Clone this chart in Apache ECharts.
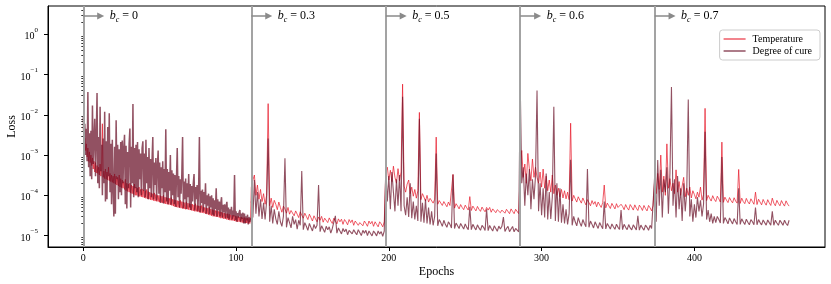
<!DOCTYPE html>
<html><head><meta charset="utf-8">
<script src="https://cdn.jsdelivr.net/npm/echarts@6/dist/echarts.min.js"></script>
<style>html,body{margin:0;padding:0;background:#fff}#chart{width:831px;height:284px}</style>
</head><body><div id="chart"></div>
<script>
// ---- data ----
const phaseStarts = [0, 110, 198, 286, 374];
const pointsPerEpoch = [2, 1, 1, 1, 1];
const phaseLabels = ['0', '0.3', '0.5', '0.6', '0.7'];
const xTickValues = [0, 100, 200, 300, 400];
const yTickValues = [1e-5, 1e-4, 1e-3, 1e-2, 1e-1, 1];
const yMinorTickValues = [6e-6,7e-6,8e-6,9e-6,
  2e-5,3e-5,4e-5,5e-5,6e-5,7e-5,8e-5,9e-5,
  2e-4,3e-4,4e-4,5e-4,6e-4,7e-4,8e-4,9e-4,
  2e-3,3e-3,4e-3,5e-3,6e-3,7e-3,8e-3,9e-3,
  2e-2,3e-2,4e-2,5e-2,6e-2,7e-2,8e-2,9e-2,
  0.2,0.3,0.4,0.5,0.6,0.7,0.8,0.9,2,3,4];

// b_c = 0 phase, two readings per epoch
const temperatureBc0 = [
5.0e-3,2.0e-3,2.6e-3,1.3e-3,1.9e-3,9.0e-4,1.5e-3,7.0e-4,1.2e-3,6.5e-4,
1.0e-3,5.5e-4,8.5e-4,4.5e-4,7.0e-4,3.8e-4,6.5e-4,3.6e-4,5.5e-4,3.5e-4,
5.0e-4,3.2e-4,6.0e-4,3.0e-4,4.5e-4,6.0e-3,2.8e-4,4.0e-4,2.6e-4,4.5e-4,
2.5e-4,3.8e-4,2.4e-4,5.0e-4,2.3e-4,3.5e-4,2.2e-4,3.2e-4,2.1e-4,3.0e-4,
2.0e-4,3.4e-4,1.9e-4,3.0e-4,1.8e-4,2.8e-4,1.7e-4,3.2e-4,1.6e-4,2.6e-4,
1.55e-4,2.4e-4,1.5e-4,2.2e-4,1.4e-4,2.5e-4,1.3e-4,2.0e-4,1.25e-4,1.9e-4,
1.2e-4,2.0e-4,1.15e-4,1.8e-4,1.1e-4,1.7e-4,1.05e-4,1.9e-4,1.0e-4,1.6e-4,
1.0e-4,1.5e-4,9.6e-5,1.6e-4,9.4e-5,1.4e-4,9.2e-5,1.45e-4,9.0e-5,1.35e-4,
8.6e-5,1.3e-4,8.4e-5,1.4e-4,8.2e-5,1.25e-4,8.0e-5,1.2e-4,7.8e-5,1.15e-4,
7.6e-5,1.1e-4,7.4e-5,1.15e-4,7.2e-5,1.05e-4,7.1e-5,1.0e-4,7.0e-5,1.0e-4,
6.8e-5,9.8e-5,6.6e-5,9.5e-5,6.5e-5,1.0e-4,6.3e-5,9.0e-5,6.1e-5,8.8e-5,
6.0e-5,8.6e-5,5.9e-5,8.4e-5,5.8e-5,8.8e-5,5.6e-5,8.0e-5,5.4e-5,7.8e-5,
5.2e-5,7.6e-5,5.1e-5,7.4e-5,5.0e-5,7.2e-5,4.9e-5,7.5e-5,4.8e-5,7.0e-5,
4.7e-5,6.8e-5,4.6e-5,6.6e-5,4.5e-5,6.9e-5,4.5e-5,6.4e-5,4.4e-5,6.2e-5,
4.3e-5,6.1e-5,4.2e-5,6.0e-5,4.1e-5,5.8e-5,4.0e-5,6.2e-5,4.0e-5,5.6e-5,
3.9e-5,5.5e-5,3.8e-5,5.4e-5,3.7e-5,5.6e-5,3.7e-5,5.2e-5,3.6e-5,5.0e-5,
3.5e-5,4.9e-5,3.4e-5,4.8e-5,3.3e-5,5.0e-5,3.2e-5,4.6e-5,3.1e-5,4.4e-5,
3.0e-5,4.3e-5,3.0e-5,4.2e-5,2.9e-5,4.1e-5,2.9e-5,4.0e-5,2.8e-5,3.9e-5,
2.7e-5,3.8e-5,2.7e-5,3.7e-5,2.6e-5,3.6e-5,2.6e-5,3.5e-5,2.5e-5,3.5e-5,
2.45e-5,3.4e-5,2.4e-5,3.3e-5,2.4e-5,3.2e-5,2.35e-5,3.2e-5,2.3e-5,3.1e-5,
2.25e-5,3.0e-5,2.2e-5,3.0e-5,2.2e-5,2.9e-5,2.15e-5,2.9e-5,2.1e-5,2.8e-5,
2.1e-5,2.8e-5,2.05e-5,2.75e-5,2.05e-5,2.7e-5,2.0e-5,2.7e-5,2.0e-5,2.65e-5];
const cureBc0 = [
8.9e-3,2.0e-3,6.0e-3,1.0e-3,4.5e-3,7.0e-4,3.7e-2,5.0e-4,3.5e-3,3.0e-4,
4.0e-3,2.5e-4,1.7e-2,6.0e-4,2.5e-3,8.0e-3,3.0e-4,3.0e-3,3.5e-2,2.0e-4,
2.8e-3,1.5e-4,1.6e-2,4.0e-4,1.8e-3,1.0e-4,2.6e-3,2.0e-4,1.2e-2,7.0e-5,
2.2e-3,8.0e-5,5.0e-3,3.0e-4,1.1e-2,1.2e-4,1.9e-3,6.0e-5,2.4e-3,1.5e-4,
3.0e-5,1.6e-3,3.5e-5,7.3e-3,2.5e-4,1.8e-3,8.0e-5,1.4e-3,1.2e-4,2.1e-3,
1.0e-4,2.3e-3,2.0e-4,1.5e-3,3.2e-3,6.0e-5,1.7e-3,4.7e-5,1.2e-3,1.5e-4,
1.9e-3,4.6e-3,5.0e-5,1.6e-3,2.0e-4,1.85e-2,9.0e-5,1.5e-3,1.5e-4,1.8e-3,
1.2e-4,2.1e-3,9.0e-5,1.4e-3,2.5e-4,1.1e-3,1.0e-4,1.5e-3,2.2e-3,1.3e-4,
1.1e-3,9.0e-5,2.4e-3,2.0e-4,9.0e-4,8.0e-5,1.5e-3,1.5e-4,8.0e-4,9.0e-5,
7.5e-4,2.8e-3,8.0e-5,6.5e-4,1.8e-4,8.5e-4,7.5e-5,5.5e-4,1.3e-3,1.1e-4,
6.5e-4,6.5e-5,5.0e-4,1.5e-4,7.0e-4,6.3e-5,4.5e-4,1.2e-4,4.4e-3,7.0e-5,
4.5e-4,6.0e-5,3.8e-4,1.3e-4,1.0e-3,5.8e-5,4.2e-4,1.0e-4,3.5e-4,6.0e-5,
3.2e-4,5.2e-5,2.8e-4,1.5e-3,9.0e-5,3.0e-4,5.0e-5,2.5e-4,1.1e-4,3.4e-4,
2.8e-3,4.8e-5,2.2e-4,8.0e-5,2.6e-4,4.6e-5,2.0e-4,9.0e-5,3.4e-4,5.0e-5,
1.9e-4,4.3e-5,1.7e-4,7.0e-5,2.0e-4,3.4e-4,4.2e-5,1.6e-4,8.0e-5,1.8e-4,
4.0e-5,1.5e-4,2.8e-3,3.8e-5,1.3e-4,6.5e-5,1.4e-4,3.9e-5,1.2e-4,6.0e-5,
2.0e-4,3.5e-5,1.0e-4,5.5e-5,1.1e-4,3.4e-5,9.5e-5,5.0e-5,1.0e-4,3.3e-5,
8.5e-5,3.1e-5,7.5e-5,4.5e-5,1.5e-4,3.0e-5,8.0e-5,4.2e-5,7.0e-5,3.0e-5,
6.5e-5,9.0e-5,2.8e-5,5.8e-5,3.8e-5,6.0e-5,2.7e-5,5.5e-5,6.9e-5,2.7e-5,
5.0e-5,2.5e-5,4.5e-5,3.3e-5,5.2e-5,2.5e-5,4.2e-5,3.0e-5,3.2e-4,2.4e-5,
4.0e-5,2.2e-5,3.6e-5,2.8e-5,3.8e-5,4.3e-5,2.2e-5,3.5e-5,2.6e-5,3.7e-5,
2.0e-5,3.5e-5,2.0e-5,3.0e-5,2.4e-5,3.3e-5,1.9e-5,2.9e-5,2.2e-5,2.8e-5];

const temperatureBc03 = [
1.6e-4,2.4e-4,3.2e-4,1.0e-4,1.8e-4,8.0e-5,1.4e-4,7.0e-5,1.1e-4,6.0e-5,
1.0e-4,1.9e-2,5.5e-5,8.5e-5,5.0e-5,7.5e-5,6.0e-5,4.4e-5,6.8e-5,5.0e-5,
3.8e-5,5.4e-5,4.6e-5,3.6e-5,5.0e-5,3.4e-5,4.2e-5,4.6e-5,3.1e-5,4.1e-5,
3.4e-5,2.8e-5,3.9e-5,3.2e-5,2.7e-5,3.6e-5,3.0e-5,2.5e-5,3.4e-5,2.8e-5,
2.3e-5,3.1e-5,2.6e-5,2.2e-5,2.9e-5,2.4e-5,3.0e-5,2.15e-5,2.7e-5,2.5e-5,
2.1e-5,2.75e-5,2.3e-5,2.0e-5,2.7e-5,2.45e-5,1.95e-5,2.6e-5,2.2e-5,2.55e-5,
1.9e-5,2.5e-5,2.2e-5,1.85e-5,2.5e-5,2.1e-5,2.45e-5,1.8e-5,2.3e-5,2.4e-5,
1.8e-5,2.1e-5,2.35e-5,1.75e-5,2.3e-5,2.0e-5,1.7e-5,2.3e-5,1.95e-5,2.25e-5,
1.7e-5,2.2e-5,1.9e-5,1.65e-5,2.2e-5,1.95e-5,1.65e-5,2.2e-5];
const cureBc03 = [
7.0e-5,2.8e-5,2.4e-4,3.5e-5,1.2e-4,3.0e-5,8.0e-5,2.6e-5,6.5e-5,2.5e-5,
7.0e-5,2.6e-3,2.2e-5,5.5e-5,2.0e-5,4.5e-5,2.6e-5,1.9e-5,4.0e-5,2.2e-5,
1.7e-5,3.0e-5,8.3e-4,1.6e-5,2.8e-5,2.1e-5,1.55e-5,3.0e-5,1.9e-5,2.5e-5,
1.45e-5,2.4e-5,1.8e-5,4.0e-4,1.4e-5,2.1e-5,1.7e-5,1.35e-5,2.0e-5,1.6e-5,
1.3e-5,1.9e-5,1.5e-5,1.8e-5,1.8e-4,1.25e-5,1.75e-5,1.45e-5,1.2e-5,1.7e-5,
1.4e-5,1.65e-5,1.15e-5,1.5e-5,1.6e-5,3.1e-5,1.15e-5,1.55e-5,1.3e-5,1.1e-5,
1.5e-5,1.25e-5,1.45e-5,1.05e-5,1.35e-5,1.45e-5,1.1e-5,1.4e-5,1.2e-5,1.05e-5,
1.4e-5,1.25e-5,1.0e-5,1.35e-5,1.15e-5,1.35e-5,1.0e-5,1.3e-5,1.2e-5,9.8e-6,
1.3e-5,1.15e-5,9.8e-6,1.3e-5,1.1e-5,1.25e-5,9.6e-6,1.3e-5];

const temperatureBc05 = [
3.5e-4,5.0e-4,2.4e-4,4.2e-4,2.2e-4,5.3e-4,2.8e-4,2.0e-4,4.6e-4,2.3e-4,
3.8e-4,5.8e-2,1.7e-4,1.2e-4,1.9e-4,2.4e-4,1.1e-4,1.6e-4,9.5e-5,1.4e-4,
8.5e-5,1.3e-4,1.15e-2,7.8e-5,1.1e-4,9.0e-5,7.2e-5,1.0e-4,6.8e-5,8.4e-5,
9.2e-5,6.4e-5,8.0e-5,2.8e-3,6.0e-5,7.4e-5,6.6e-5,5.6e-5,7.0e-5,6.0e-5,
5.2e-5,6.8e-5,5.6e-5,5.0e-5,3.3e-4,4.8e-5,6.2e-5,5.4e-5,4.6e-5,5.9e-5,
5.0e-5,4.4e-5,5.7e-5,4.9e-5,4.3e-5,9.3e-5,4.2e-5,5.4e-5,4.7e-5,4.1e-5,
5.3e-5,4.5e-5,4.0e-5,5.1e-5,4.4e-5,3.9e-5,5.0e-5,4.3e-5,5.0e-5,3.8e-5,
4.6e-5,4.9e-5,3.7e-5,4.4e-5,4.8e-5,3.7e-5,4.3e-5,4.7e-5,3.6e-5,4.5e-5,
4.2e-5,3.5e-5,4.6e-5,4.0e-5,3.5e-5,4.5e-5,4.1e-5,3.5e-5];
const cureBc05 = [
4.3e-4,7.0e-5,3.0e-4,4.5e-5,3.8e-4,1.2e-4,4.0e-5,2.5e-4,5.5e-5,3.2e-4,
4.0e-5,2.8e-2,5.5e-5,3.2e-5,9.0e-5,2.9e-5,2.0e-4,2.7e-5,7.0e-5,2.5e-5,
5.5e-5,2.3e-5,8.0e-3,2.2e-5,6.5e-5,2.1e-5,8.0e-5,2.0e-5,5.0e-5,1.9e-5,
4.0e-5,1.8e-5,3.0e-5,1.1e-3,1.75e-5,2.5e-5,2.1e-5,1.7e-5,2.4e-5,1.9e-5,
1.6e-5,2.2e-5,1.9e-5,1.55e-5,3.3e-4,1.5e-5,2.05e-5,1.75e-5,1.5e-5,2.0e-5,
1.7e-5,1.45e-5,1.95e-5,1.6e-5,1.4e-5,5.2e-5,1.4e-5,1.9e-5,1.6e-5,1.38e-5,
1.85e-5,1.55e-5,1.35e-5,1.8e-5,1.6e-5,1.34e-5,4.5e-5,1.32e-5,1.78e-5,1.5e-5,
1.3e-5,1.75e-5,1.5e-5,1.28e-5,1.72e-5,1.45e-5,1.7e-5,2.9e-5,1.26e-5,1.5e-5,
1.7e-5,1.25e-5,1.45e-5,1.68e-5,1.24e-5,1.5e-5,1.66e-5,1.24e-5];

const temperatureBc06 = [
4.0e-4,1.3e-3,2.8e-4,6.0e-4,2.0e-4,1.1e-3,4.5e-4,2.3e-4,8.0e-4,2.8e-4,
5.0e-4,2.8e-4,2.0e-4,3.8e-4,1.6e-4,4.5e-4,1.5e-4,3.0e-4,1.3e-4,2.4e-4,
1.2e-4,3.2e-4,1.1e-4,1.8e-4,1.0e-4,1.5e-4,9.2e-5,1.4e-4,8.6e-5,1.3e-4,
8.2e-5,1.2e-4,7.8e-5,6.2e-3,7.2e-5,1.0e-4,8.2e-5,6.8e-5,9.2e-5,7.6e-5,
6.4e-5,8.6e-5,7.0e-5,5.8e-5,7.8e-5,6.6e-5,5.5e-5,7.4e-5,6.0e-5,7.0e-5,
5.2e-5,6.8e-5,5.8e-5,5.0e-5,6.6e-5,1.8e-4,4.9e-5,6.4e-5,5.5e-5,4.7e-5,
6.3e-5,5.4e-5,4.6e-5,6.2e-5,5.0e-5,4.5e-5,6.0e-5,5.3e-5,4.4e-5,5.9e-5,
4.9e-5,4.3e-5,5.9e-5,5.1e-5,4.3e-5,5.8e-5,4.8e-5,4.2e-5,5.7e-5,5.0e-5,
4.2e-5,5.6e-5,4.7e-5,4.1e-5,5.6e-5,4.9e-5,4.1e-5,5.5e-5];
const cureBc06 = [
6.0e-2,2.0e-4,5.0e-4,5.5e-5,3.5e-4,1.0e-4,4.5e-4,4.5e-5,2.5e-4,8.0e-5,
3.0e-4,4.0e-2,4.0e-5,2.0e-4,3.2e-5,1.5e-4,2.8e-5,3.5e-4,2.5e-5,1.2e-4,
2.6e-5,9.0e-5,1.6e-2,2.3e-5,2.0e-4,2.2e-5,1.5e-4,2.1e-5,6.0e-5,2.0e-5,
4.5e-5,1.9e-5,3.5e-5,7.6e-4,1.8e-5,3.0e-5,2.2e-5,1.75e-5,2.8e-5,2.1e-5,
1.7e-5,2.5e-5,2.0e-5,1.65e-5,4.5e-4,1.6e-5,2.3e-5,1.9e-5,1.55e-5,2.2e-5,
1.8e-5,1.5e-5,2.1e-5,1.75e-5,1.48e-5,7.0e-5,1.46e-5,2.0e-5,1.7e-5,1.45e-5,
1.95e-5,1.65e-5,1.43e-5,1.92e-5,1.6e-5,1.42e-5,4.3e-5,1.4e-5,1.9e-5,1.6e-5,
1.4e-5,1.88e-5,1.55e-5,1.38e-5,1.85e-5,1.6e-5,1.38e-5,3.1e-5,1.36e-5,1.82e-5,
1.55e-5,1.36e-5,1.82e-5,1.6e-5,1.35e-5,1.8e-5,1.5e-5,1.35e-5];

const temperatureBc07 = [
2.4e-4,1.1e-4,3.5e-4,1.4e-4,1.0e-3,1.2e-4,3.0e-4,1.0e-4,1.9e-3,1.5e-4,
2.6e-4,1.3e-4,2.0e-4,1.1e-4,4.3e-4,1.2e-4,2.2e-4,1.0e-4,1.7e-4,2.8e-4,
9.2e-5,1.5e-4,1.0e-4,1.6e-4,8.6e-5,1.3e-4,1.05e-4,8.2e-5,1.2e-4,9.0e-5,
1.6e-4,7.6e-5,1.05e-4,1.45e-2,7.4e-5,1.0e-4,8.4e-5,7.2e-5,9.8e-5,8.0e-5,
7.0e-5,9.5e-5,8.2e-5,6.8e-5,2.1e-3,6.7e-5,9.0e-5,7.6e-5,6.6e-5,8.8e-5,
7.4e-5,6.5e-5,8.7e-5,7.2e-5,6.4e-5,4.4e-4,6.3e-5,8.5e-5,7.0e-5,6.2e-5,
8.4e-5,6.9e-5,6.1e-5,8.2e-5,7.0e-5,6.0e-5,1.2e-4,5.9e-5,8.0e-5,6.8e-5,
5.8e-5,7.9e-5,6.6e-5,5.7e-5,7.8e-5,6.5e-5,5.6e-5,8.5e-5,6.4e-5,5.5e-5,
7.5e-5,6.3e-5,5.5e-5,7.4e-5,6.2e-5,5.4e-5,7.3e-5,6.1e-5,5.4e-5];
const cureBc07 = [
3.0e-4,2.2e-5,7.5e-4,5.5e-5,4.3e-4,2.8e-5,2.5e-4,1.2e-4,5.0e-4,3.5e-5,
3.5e-4,4.9e-2,5.5e-5,2.5e-4,2.8e-5,3.0e-4,4.5e-5,1.5e-4,2.3e-5,2.0e-4,
4.0e-5,1.2e-4,2.4e-2,3.0e-5,8.0e-5,2.2e-5,6.0e-5,2.8e-5,9.0e-5,4.0e-5,
7.5e-5,3.0e-5,6.0e-5,3.8e-3,2.5e-5,4.3e-5,2.2e-5,3.5e-5,2.0e-5,3.0e-5,
2.1e-5,3.0e-5,2.5e-5,2.05e-5,9.0e-4,2.0e-5,2.8e-5,2.4e-5,1.95e-5,2.75e-5,
2.3e-5,1.95e-5,2.65e-5,2.2e-5,1.9e-5,1.5e-4,1.9e-5,2.6e-5,2.2e-5,1.88e-5,
2.55e-5,2.15e-5,1.86e-5,2.5e-5,2.2e-5,1.86e-5,5.0e-5,1.85e-5,2.5e-5,2.1e-5,
1.84e-5,2.45e-5,2.1e-5,1.82e-5,2.45e-5,2.1e-5,1.82e-5,4.0e-5,1.8e-5,2.4e-5,
2.05e-5,1.8e-5,2.4e-5,2.1e-5,1.8e-5,2.4e-5,2.0e-5,1.78e-5,2.4e-5];

const temperatureSegments = [temperatureBc0, temperatureBc03, temperatureBc05, temperatureBc06, temperatureBc07];
const cureSegments = [cureBc0, cureBc03, cureBc05, cureBc06, cureBc07];

// ---- build ----
function toPairs(segments, first) {
  const out = [];
  segments.forEach((seg, j) => {
    const k = j + first;
    seg.forEach((v, i) => out.push([phaseStarts[k] + i / pointsPerEpoch[k], v]));
  });
  return out;
}
const FONT = '"Liberation Serif", "DejaVu Serif", serif';
const arrowY = 2.86, arrowLen = 11.4;
const RED = 'rgba(232,28,44,0.72)', MAROON = 'rgba(104,14,38,0.72)';

const chart = echarts.init(document.getElementById('chart'), null, {renderer: 'canvas'});
const option = {
  animation: false,
  backgroundColor: '#ffffff',
  textStyle: {fontFamily: FONT, color: '#000'},
  grid: {left: 48, right: 6, top: 6, bottom: 37, containLabel: false, outerBoundsMode: 'none',
         show: true, borderColor: '#000', borderWidth: 1, backgroundColor: 'transparent'},
  legend: {
    data: ['Temperature', 'Degree of cure'],
    orient: 'vertical', right: 11, top: 30,
    icon: 'rect', itemWidth: 22, itemHeight: 1.5, itemGap: 2,
    padding: [4, 8, 4, 4],
    backgroundColor: 'rgba(255,255,255,0.85)', borderColor: '#cccccc', borderWidth: 1, borderRadius: 3,
    textStyle: {fontFamily: FONT, fontSize: 10, color: '#000', padding: [0, 0, 0, 2]}
  },
  xAxis: {
    type: 'value', min: -23.1, max: 485.5,
    name: 'Epochs', nameLocation: 'middle', nameGap: 19, nameMoveOverlap: false,
    nameTextStyle: {fontFamily: FONT, fontSize: 12, color: '#000'},
    axisLine: {show: true, onZero: false, lineStyle: {color: '#000', width: 1}},
    axisTick: {show: true, length: 4, customValues: xTickValues, lineStyle: {color: '#000', width: 1}},
    axisLabel: {customValues: xTickValues, fontFamily: FONT, fontSize: 10, color: '#000', margin: 6},
    splitLine: {show: false}
  },
  yAxis: [{
    type: 'log', logBase: 10, min: 5.2e-6, max: 5.07,
    name: 'Loss', nameLocation: 'middle', nameGap: 30, nameRotate: 90, nameMoveOverlap: false,
    nameTextStyle: {fontFamily: FONT, fontSize: 12, color: '#000'},
    axisLine: {show: true, onZero: false, lineStyle: {color: '#000', width: 1}},
    axisTick: {show: true, length: 4, customValues: yTickValues, lineStyle: {color: '#000', width: 1}},
    axisLabel: {
      customValues: yTickValues, margin: 10,
      formatter: v => {
        const e = Math.round(Math.log10(v));
        return '{base|10}{sup|' + (e < 0 ? '\u2212' + (-e) : String(e)) + '}';
      },
      rich: {
        base: {fontFamily: FONT, fontSize: 10, color: '#000', verticalAlign: 'bottom', lineHeight: 15},
        sup: {fontFamily: FONT, fontSize: 7, color: '#000', verticalAlign: 'top', lineHeight: 15}
      }
    },
    splitLine: {show: false}
  }, {
    type: 'log', logBase: 10, min: 5.2e-6, max: 5.07, position: 'left', offset: 0,
    axisLine: {show: false},
    axisTick: {show: true, length: 2, customValues: yMinorTickValues, lineStyle: {color: '#000', width: 0.8}},
    axisLabel: {show: false},
    splitLine: {show: false}
  }],
  series: [
    {
      name: 'Temperature', type: 'line', symbol: 'none', showSymbol: false,
      data: toPairs(temperatureSegments, 0),
      lineStyle: {color: RED, width: 1}, itemStyle: {color: RED},
      emphasis: {disabled: true}, z: 2
    },
    {
      name: 'Degree of cure', type: 'line', symbol: 'none', showSymbol: false,
      data: toPairs(cureSegments.slice(0, 1), 0),
      lineStyle: {color: MAROON, width: 1.5}, itemStyle: {color: MAROON},
      emphasis: {disabled: true}, z: 3
    },
    {
      name: 'Degree of cure', type: 'line', symbol: 'none', showSymbol: false,
      data: toPairs(cureSegments.slice(1), 1),
      lineStyle: {color: MAROON, width: 1.1}, itemStyle: {color: MAROON},
      emphasis: {disabled: true}, z: 3
    },
    {
      name: 'phases', type: 'line', data: [], silent: true, z: 4,
      markLine: {
        silent: true, symbol: ['none', 'none'], animation: false,
        lineStyle: {color: '#a3a3a3', width: 2, type: 'solid'},
        label: {show: false},
        emphasis: {disabled: true},
        data: phaseStarts.map(s => ({xAxis: s}))
      }
    },
    {
      name: 'arrows', type: 'line', data: [], silent: true, z: 5,
      markLine: {
        silent: true, symbol: ['none', 'triangle'], symbolSize: 7, animation: false,
        lineStyle: {color: '#8a8a8a', width: 1.5, type: 'solid'},
        emphasis: {disabled: true},
        label: {
          show: true, position: 'end', distance: 9,
          formatter: p => '{b|b}{c|c}{t| = ' + phaseLabels[p.dataIndex] + '}',
          rich: {
            b: {fontFamily: FONT, fontSize: 12, fontStyle: 'italic', color: '#000', verticalAlign: 'middle', lineHeight: 16},
            c: {fontFamily: FONT, fontSize: 8, fontStyle: 'italic', color: '#000', verticalAlign: 'bottom', lineHeight: 16},
            t: {fontFamily: FONT, fontSize: 12, color: '#000', verticalAlign: 'middle', lineHeight: 16}
          }
        },
        data: phaseStarts.map(s => [{coord: [s, arrowY]}, {coord: [s + arrowLen, arrowY]}])
      }
    }
  ]
};
chart.setOption(option);
</script></body></html>
